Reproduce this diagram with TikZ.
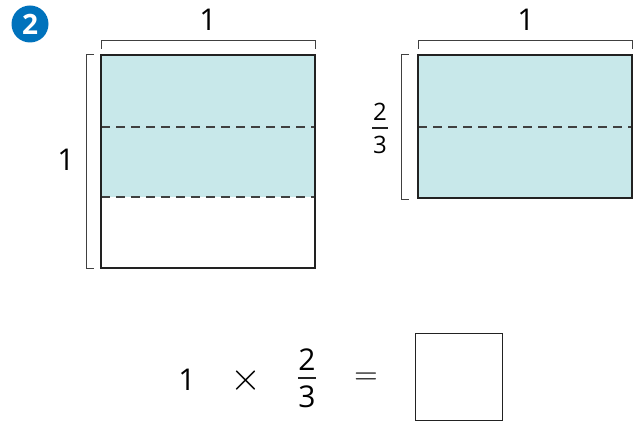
\documentclass[tikz,border=0pt]{standalone}
\usepackage{fontspec}
\setmainfont{Open Sans}
\definecolor{badgeblue}{HTML}{0072BC}
\definecolor{paneltint}{HTML}{C8E8EA}
\definecolor{edge}{HTML}{222222}
\newcommand{\opsym}[2]{\scalebox{#1}{$#2$}}
\tikzset{
  big/.style={font=\fontsize{30}{30}\selectfont, inner sep=0pt},
  small/.style={font=\fontsize{24}{24}\selectfont, inner sep=0pt},
  brace/.style={line width=1pt, draw=black!75},
  frame/.style={line width=2.8pt, draw=edge},
  fold/.style={dash pattern=on 9pt off 6pt, line width=1.2pt, draw=black!75},
  bar/.style={line width=1.8pt, draw=edge}
}
\begin{document}
\begin{tikzpicture}[x=1pt, y=-1pt]
  \useasboundingbox (0,0) rectangle (640,422);

  % badge
  \node[circle, fill=badgeblue, minimum size=37pt, inner sep=0pt,
        text=white, font=\fontsize{28}{28}\selectfont\bfseries] (badge) at (30,24) {2};

  % left square: 1 x 1
  \fill[paneltint] (101,55) rectangle (315,197);
  \draw[fold] (101,127) -- (315,127);
  \draw[fold] (101,197) -- (315,197);
  \draw[frame] (101,55) rectangle (315,268);
  \draw[brace] (101,49) -- (101,41) -- (315,41) -- (315,49);
  \draw[brace] (94,55) -- (86,55) -- (86,268) -- (94,268);
  \node[big] (topA) at (208,20) {1};
  \node[big] (sideA) at (66,160) {1};

  % right rectangle: 1 x 2/3
  \fill[paneltint] (418,55) rectangle (632,198);
  \draw[fold] (418,127) -- (632,127);
  \draw[frame] (418,55) rectangle (632,198);
  \draw[brace] (418,49) -- (418,41) -- (632,41) -- (632,49);
  \draw[brace] (409,55) -- (401,55) -- (401,200) -- (409,200);
  \node[big] (topB) at (526,20) {1};
  \node[small] (numB) at (380,111.5) {2};
  \node[small] (denB) at (380,145) {3};
  \draw[bar] (372,128) -- (388,128);

  % equation
  \node[big] (one) at (187,380) {1};
  \node[big] (times) at (246,381) {\opsym{1.6}{\times}};
  \node[big] (numC) at (307,359.5) {2};
  \node[big] (denC) at (307,396.5) {3};
  \draw[bar] (298,378) -- (316,378);
  \node[big] (eq) at (366,379) {\opsym{1.3}{=}};
  \node[draw=edge, line width=1.8pt, minimum size=87pt, inner sep=0pt] (answer) at (459,377) {};
\end{tikzpicture}
\end{document}
